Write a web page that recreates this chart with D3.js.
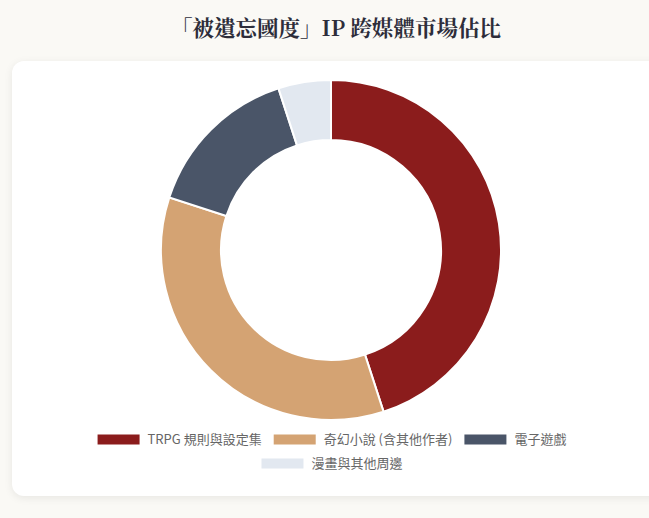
<!DOCTYPE html>
<html>
<head>
<meta charset="utf-8">
<script src="https://cdn.jsdelivr.net/npm/d3@7/dist/d3.min.js"></script>
<style>
  html, body { margin:0; padding:0; background:#faf9f5; overflow:hidden; }
  #card { position:absolute; left:12px; top:61px; width:660px; height:435px; background:#fff;
          border-radius:12px; box-shadow:0 2px 8px rgba(0,0,0,0.08); }
  svg { position:absolute; left:0; top:0; }
</style>
</head>
<body>
<div id="card"></div>
<svg id="chart" width="649" height="518"></svg>
<script>
const categories = ["TRPG 規則與設定集", "奇幻小說 (含其他作者)", "電子遊戲", "漫畫與其他周邊"];
const values = [45, 35, 15, 5];
const colors = ["#8b1c1c", "#d4a373", "#4a5568", "#e2e8f0"];
const title = "「被遺忘國度」IP 跨媒體市場佔比";

const svg = d3.select("#chart");

svg.append("text")
  .attr("x", 336).attr("y", 36)
  .attr("text-anchor", "middle")
  .attr("font-family", "'Noto Serif CJK TC','Noto Serif TC','Noto Serif CJK JP',serif,'Noto Sans CJK TC'")
  .attr("font-weight", "bold")
  .attr("font-size", 21.5)
  .attr("fill", "#2d2d3a")
  .text(title);

const cx = 331, cy = 250, rOuter = 170, rInner = 110;
const pie = d3.pie().sort(null).value(d => d)(values);
const arc = d3.arc().innerRadius(rInner).outerRadius(rOuter);
const g = svg.append("g").attr("transform", `translate(${cx},${cy})`);
g.selectAll("path").data(pie).join("path")
  .attr("d", arc)
  .attr("fill", (d, i) => colors[i])
  .attr("stroke", "#fff")
  .attr("stroke-width", 2);

// legend
const font = "'Noto Sans CJK TC','Noto Sans',sans-serif";
const boxW = 42, boxH = 10, gapText = 8, itemGap = 12, fs = 13;
const measure = svg.append("text").attr("font-size", fs).attr("font-family", font).attr("visibility", "hidden");
function tw(t) { measure.text(t); return measure.node().getComputedTextLength(); }
const rows = [[0, 1, 2], [3]];
const rowY = [439.5, 463.5];
rows.forEach((row, ri) => {
  const widths = row.map(i => boxW + gapText + tw(categories[i]));
  const total = d3.sum(widths) + itemGap * (row.length - 1);
  let x = cx + 1 - total / 2;
  row.forEach((i, k) => {
    const lg = svg.append("g").attr("transform", `translate(${x},${rowY[ri]})`);
    lg.append("rect").attr("x", 0).attr("y", -boxH / 2).attr("width", boxW).attr("height", boxH)
      .attr("fill", colors[i]);
    lg.append("text").attr("x", boxW + gapText).attr("y", 0).attr("dy", "0.35em")
      .attr("font-size", fs).attr("font-family", font).attr("fill", "#666")
      .text(categories[i]);
    x += widths[k] + itemGap;
  });
});
measure.remove();
</script>
</body>
</html>
